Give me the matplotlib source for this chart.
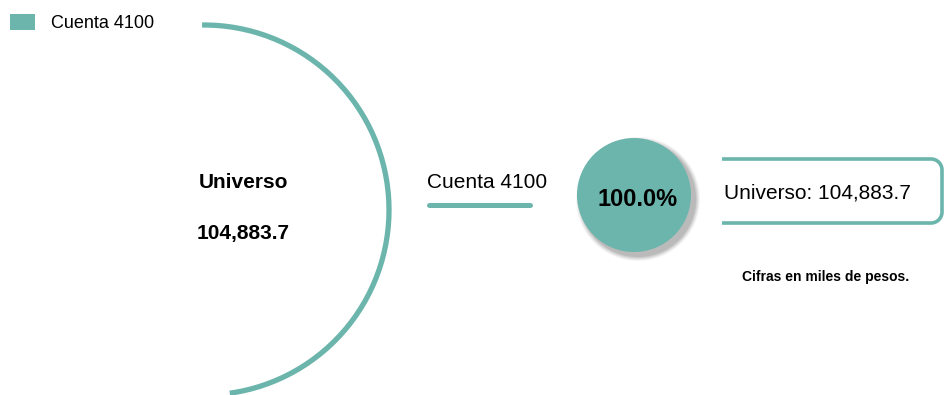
import numpy as np
import matplotlib
matplotlib.use("Agg")
import matplotlib.pyplot as plt
from matplotlib.patches import Arc, Circle, Rectangle

# data
categorias = ["Cuenta 4100"]
valores = [104883.7]
universo_label = "Universo"
nota = "Cifras en miles de pesos."

total = sum(valores)
pct = [v / total * 100 for v in valores]

teal = "#6bb5ac"
plt.rcParams['font.family'] = ['Liberation Sans', 'DejaVu Sans']

fig = plt.figure(figsize=(9.45, 3.95), dpi=100)
ax = fig.add_axes([0, 0, 1, 1])
ax.set_xlim(0, 945)
ax.set_ylim(395, 0)
ax.axis('off')

# legend
ax.add_patch(Rectangle((10, 14), 25, 16, color=teal, lw=0))
ax.text(51, 23, categorias[0], fontsize=13, va='center', ha='left')

# big arc (universe)
ax.add_patch(Arc((204, 210), 370, 370, theta1=-90.6, theta2=82,
                 color=teal, lw=3.8, capstyle='butt'))
ax.text(243, 183, universo_label, fontsize=15, fontweight='bold', ha='center', va='center')
ax.text(243, 233, f"{total:,.1f}", fontsize=15, fontweight='bold', ha='center', va='center')

# category label + underline
ax.text(427, 183, categorias[0], fontsize=15, ha='left', va='center')
ax.plot([429, 530], [205, 205], color=teal, lw=3.6, solid_capstyle='round')

# percentage bubble with soft shadow
cx, cy, r = 634, 195, 57
for i, a in enumerate([0.04, 0.05, 0.06, 0.07, 0.08]):
    ax.add_patch(Circle((cx + 4, cy + 4), r + 5 - i, color='black', alpha=a, lw=0))
ax.add_patch(Circle((cx, cy), r, color=teal, lw=0))
ax.text(cx + 4, cy + 4, f"{pct[0]:.1f}%", fontsize=17, fontweight='bold', ha='center', va='center')

# open-left rounded box with the total
x0, x1, y0, y1, rc = 722, 942, 159, 223, 11
t = np.linspace(0, np.pi / 2, 20)
bx = np.concatenate([[x0], x1 - rc + rc * np.sin(t), x1 - rc + rc * np.cos(t), [x0]])
by = np.concatenate([[y0], y0 + rc - rc * np.cos(t), y1 - rc + rc * np.sin(t), [y1]])
ax.plot(bx, by, color=teal, lw=2.6, solid_capstyle='butt', solid_joinstyle='round')
ax.text(724, 193, f"{universo_label}: {total:,.1f}", fontsize=15, ha='left', va='center')

ax.text(826, 277, nota, fontsize=10, fontweight='bold', ha='center', va='center')

fig.savefig("out.png", dpi=100)
